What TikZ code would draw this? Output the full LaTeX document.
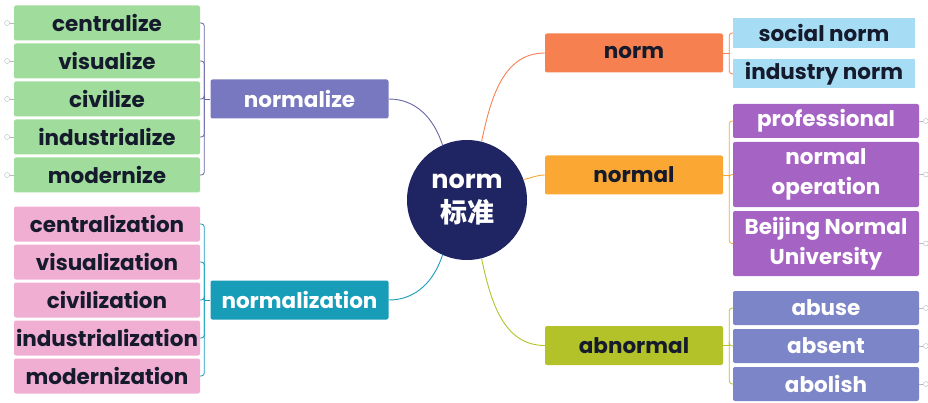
\documentclass[tikz,border=0pt]{standalone}
\usepackage{fontspec}
\setmainfont{Poppins}
\newfontfamily\cjk{Noto Sans CJK SC}
\usetikzlibrary{positioning}

\definecolor{ink}{HTML}{151B2C}
\definecolor{hubblue}{HTML}{1F2562}
\definecolor{leafgreen}{HTML}{A0DC9B}
\definecolor{leafpink}{HTML}{F0AED3}
\definecolor{izepurple}{HTML}{7878C0}
\definecolor{tionteal}{HTML}{189DB9}
\definecolor{normorange}{HTML}{F6804F}
\definecolor{normalamber}{HTML}{FAA833}
\definecolor{abolive}{HTML}{B4C22A}
\definecolor{skyblue}{HTML}{A6DDF5}
\definecolor{violet}{HTML}{A563C4}
\definecolor{periwinkle}{HTML}{7C85C8}

\tikzset{
  word/.style = {rounded corners=2pt, inner sep=0pt, align=center,
    font=\bfseries\fontsize{21.5}{30}\selectfont},
  leaf/.style = {word, minimum width=186pt, minimum height=35pt},
  branch/.style = {word, minimum width=178pt, minimum height=39pt},
  fold/.style = {circle, draw=gray!55, inner sep=0pt, minimum size=5pt},
  bracket/.style = {line width=0.8pt, rounded corners=3pt}
}

\begin{document}
\begin{tikzpicture}[x=1pt, y=1pt, node distance=38pt]
\useasboundingbox (0,0) rectangle (928,402);

% hub
\node [circle, fill=hubblue, text=white, minimum size=120pt, inner sep=0pt,
  align=center, font=\bfseries\fontsize{25.5}{34}\selectfont]
  (hub) at (467,202) {norm\\{\cjk\bfseries\fontsize{27}{34}\selectfont 标准}};

% branches
\node [branch, fill=izepurple, text=white] (normalize) at (299.5,303) {normalize};
\node [branch, fill=tionteal, text=white] (normalization) at (299.5,102) {normalization};
\node [branch, fill=normorange, text=ink] (norm) at (634,349) {norm};
\node [branch, fill=normalamber, text=ink] (normal) at (634,227) {normal};
\node [branch, fill=abolive, text=ink] (abnormal) at (634,56.5) {abnormal};

% -ize leaves
\node [leaf, fill=leafgreen, text=ink] (g1) at (107,379) {centralize};
\node [leaf, fill=leafgreen, text=ink, below of = g1] (g2) {visualize};
\node [leaf, fill=leafgreen, text=ink, below of = g2] (g3) {civilize};
\node [leaf, fill=leafgreen, text=ink, below of = g3] (g4) {industrialize};
\node [leaf, fill=leafgreen, text=ink, below of = g4] (g5) {modernize};

% -ization leaves
\node [leaf, fill=leafpink, text=ink] (p1) at (107,178) {centralization};
\node [leaf, fill=leafpink, text=ink, below of = p1] (p2) {visualization};
\node [leaf, fill=leafpink, text=ink, below of = p2] (p3) {civilization};
\node [leaf, fill=leafpink, text=ink, below of = p3] (p4) {industrialization};
\node [leaf, fill=leafpink, text=ink, below of = p4] (p5) {modernization};

% norm leaves
\node [leaf, fill=skyblue, text=ink, rounded corners=0pt, minimum width=182pt,
  minimum height=30pt] (s1) at (824,369) {social norm};
\node [leaf, fill=skyblue, text=ink, rounded corners=0pt, minimum width=182pt,
  minimum height=29pt, below = 11pt of s1] (s2) {industry norm};

% normal leaves
\node [leaf, fill=violet, text=white, minimum height=34pt] (v1) at (826,281) {professional};
\node [leaf, fill=violet, text=white, minimum height=65pt] (v2) at (826,227.5) {normal\\operation};
\node [leaf, fill=violet, text=white, minimum height=65pt] (v3) at (826,158.5) {Beijing Normal\\University};

% abnormal leaves
\node [leaf, fill=periwinkle, text=white, minimum height=34pt] (a1) at (826,94) {abuse};
\node [leaf, fill=periwinkle, text=white, minimum height=34pt, below of = a1] (a2) {absent};
\node [leaf, fill=periwinkle, text=white, minimum height=34pt, below of = a2] (a3) {abolish};

% hub connectors
\path[line width=0.9pt]
(hub.114) edge[izepurple!85!black, out=108, in=0] (normalize.east)
(hub.246) edge[tionteal, out=252, in=0] (normalization.east)
(hub.76) edge[normorange, out=78, in=180] (norm.west)
(hub.20) edge[normalamber, out=10, in=180] (normal.west)
(hub.284) edge[abolive, out=282, in=180] (abnormal.west);

% brackets
\draw[bracket, izepurple!85!black] (normalize.west) -- ++(-6,0) coordinate (gb);
\foreach \n in {g1,g2,g3,g4,g5} \draw[bracket, izepurple!85!black] (gb) |- (\n.east);
\draw[bracket, tionteal] (normalization.west) -- ++(-6,0) coordinate (pb);
\foreach \n in {p1,p2,p3,p4,p5} \draw[bracket, tionteal] (pb) |- (\n.east);
\draw[bracket, normorange] (norm.east) -- ++(6,0) coordinate (sb);
\foreach \n in {s1,s2} \draw[bracket, normorange] (sb) |- (\n.west);
\draw[bracket, normalamber] (normal.east) -- ++(6,0) coordinate (vb);
\foreach \n in {v1,v2,v3} \draw[bracket, normalamber] (vb) |- (\n.west);
\draw[bracket, abolive] (abnormal.east) -- ++(6,0) coordinate (ab);
\foreach \n in {a1,a2,a3} \draw[bracket, abolive] (ab) |- (\n.west);

% fold marks
\foreach \n in {g1,g2,g3,g4,g5} {
  \node [fold, left = 4pt of \n] (f\n) {};
  \draw[gray!55] (f\n) -- (\n);
}
\foreach \n in {v1,v2,v3,a1,a2,a3} {
  \node [fold, right = 4pt of \n] (f\n) {};
  \draw[gray!55] (f\n) -- (\n);
}
\end{tikzpicture}
\end{document}
